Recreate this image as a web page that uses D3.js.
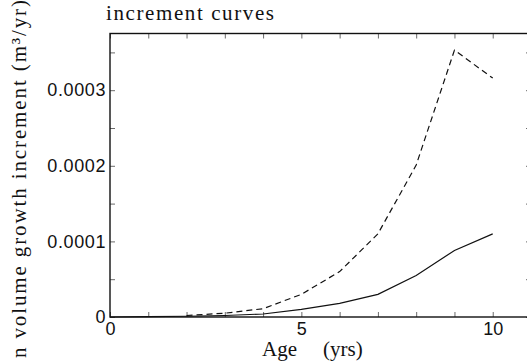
<!DOCTYPE html>
<html>
<head>
<meta charset="utf-8">
<script src="https://cdn.jsdelivr.net/npm/d3@7"></script>
<style>
  body { margin: 0; background: #fff; overflow: hidden; }
  svg { display: block; }
</style>
</head>
<body>
<svg></svg>
<script>
// data
var solidAges = [0, 1, 2, 3, 4, 5, 6, 7, 8, 9, 10];
var solidValues = [0, 0.0000005, 0.000001, 0.000002, 0.000004, 0.00001, 0.000018, 0.00003, 0.000055, 0.000088, 0.00011];
var dashedAges = [2, 3, 4, 5, 6, 7, 8, 9, 10];
var dashedValues = [0.000002, 0.000005, 0.000011, 0.00003, 0.00006, 0.00011, 0.000201, 0.000353, 0.000316];
var xTickLabels = [0, 5, 10];
var yTickLabels = [0, 0.0001, 0.0002, 0.0003];

var width = 527, height = 361;
var plotLeft = 110, plotRight = 531, plotTop = 33.5, plotBottom = 317;

var svg = d3.select('svg')
    .attr('width', width)
    .attr('height', height);

var x = d3.scaleLinear().domain([0, 11]).range([plotLeft, plotRight]);
var y = d3.scaleLinear().domain([0, 0.000375]).range([plotBottom, plotTop]);

var sans = '"Liberation Sans", Arial, sans-serif';
var serif = '"Liberation Serif", "Times New Roman", serif';

// inner ticks on all four sides
var minorX = d3.range(0, 12, 1);
var minorY = d3.range(0, 0.000376, 0.00005);

svg.append('g').attr('transform', `translate(0,${plotBottom})`)
    .call(d3.axisTop(x).tickValues(minorX).tickSize(5).tickFormat(''))
    .call(g => g.select('.domain').remove());
svg.append('g').attr('transform', `translate(0,${plotTop})`)
    .call(d3.axisBottom(x).tickValues(minorX).tickSize(5).tickFormat(''))
    .call(g => g.select('.domain').remove());
svg.append('g').attr('transform', `translate(${plotLeft},0)`)
    .call(d3.axisRight(y).tickValues(minorY).tickSize(5).tickFormat(''))
    .call(g => g.select('.domain').remove());
svg.append('g').attr('transform', `translate(${plotRight},0)`)
    .call(d3.axisLeft(y).tickValues(minorY).tickSize(5).tickFormat(''))
    .call(g => g.select('.domain').remove());

svg.selectAll('.tick line').attr('stroke', '#444').attr('stroke-width', 0.8);

// frame
svg.append('rect')
    .attr('x', plotLeft).attr('y', plotTop)
    .attr('width', plotRight - plotLeft).attr('height', plotBottom - plotTop)
    .attr('fill', 'none').attr('stroke', '#111').attr('stroke-width', 1.4);

// tick labels
var xLab = d3.axisBottom(x).tickValues(xTickLabels).tickSize(0).tickPadding(5).tickFormat(d3.format('d'));
svg.append('g').attr('transform', `translate(0,${plotBottom})`)
    .call(xLab)
    .call(g => g.select('.domain').remove())
    .selectAll('text')
    .style('font-family', sans).style('font-size', '18px').attr('fill', '#111');

var yLab = d3.axisLeft(y).tickValues(yTickLabels).tickSize(0).tickPadding(4)
    .tickFormat(d => d === 0 ? '0' : d.toFixed(4));
svg.append('g').attr('transform', `translate(${plotLeft},0)`)
    .call(yLab)
    .call(g => g.select('.domain').remove())
    .selectAll('text')
    .style('font-family', sans).style('font-size', '18px')
    .style('letter-spacing', '0.6px').attr('fill', '#111');

// lines
var line = d3.line().x(d => x(d[0])).y(d => y(d[1]));

svg.append('path')
    .datum(d3.zip(solidAges, solidValues))
    .attr('d', line)
    .attr('fill', 'none').attr('stroke', '#111').attr('stroke-width', 1.2);

svg.append('path')
    .datum(d3.zip(dashedAges, dashedValues))
    .attr('d', line)
    .attr('fill', 'none').attr('stroke', '#111').attr('stroke-width', 1.2)
    .attr('stroke-dasharray', '6,4');

// titles
svg.append('text')
    .attr('x', 106).attr('y', 20)
    .style('font-family', serif).style('font-size', '21px')
    .attr('textLength', 168).attr('fill', '#111')
    .text('increment curves');

svg.append('text')
    .attr('x', 262).attr('y', 356)
    .style('font-family', serif).style('font-size', '21px').attr('fill', '#111')
    .text('Age');
svg.append('text')
    .attr('x', 323).attr('y', 356)
    .style('font-family', serif).style('font-size', '21px').attr('fill', '#111')
    .text('(yrs)');

svg.append('text')
    .attr('transform', 'translate(26,358) rotate(-90)')
    .style('font-family', serif).style('font-size', '21px').attr('fill', '#111')
    .attr('textLength', 358)
    .text('n volume growth increment (m³/yr)');
</script>
</body>
</html>
